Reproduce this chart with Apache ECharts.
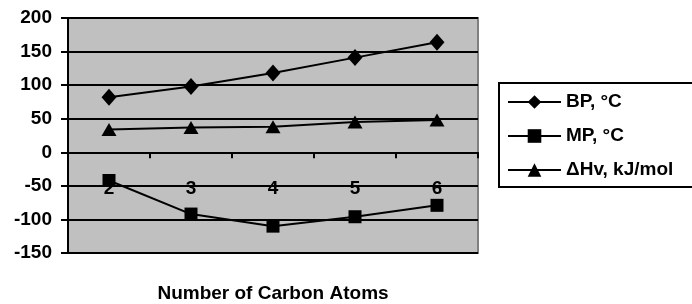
<!DOCTYPE html>
<html>
<head>
<meta charset="utf-8">
<script src="https://cdn.jsdelivr.net/npm/echarts@6/dist/echarts.min.js"></script>
<style>
  html, body { margin: 0; padding: 0; background: #fff; }
  #main { width: 692px; height: 304px; }
</style>
</head>
<body>
<div id="main"></div>
<script>
var categories = ['2', '3', '4', '5', '6'];
var bpData = [82, 98, 118, 141, 164];
var mpData = [-42, -92, -110, -96, -79];
var hvData = [34, 37, 38, 45, 48];
var seriesNames = ['BP, °C', 'MP, °C', 'ΔHv, kJ/mol'];

var chart = echarts.init(document.getElementById('main'));

var font = 'Arial, "Liberation Sans", sans-serif';
var fs = 19;

function lineSeries(name, data, symbol, size) {
  return {
    name: name,
    type: 'line',
    data: data,
    symbol: symbol,
    symbolSize: size,
    lineStyle: { color: '#000', width: 2 },
    itemStyle: { color: '#000' },
    animation: false
  };
}

var option = {
  title: {
    text: 'Number of Carbon Atoms',
    left: 273,
    top: 284,
    textAlign: 'center',
    padding: 0,
    textStyle: { color: '#000', fontSize: fs, fontWeight: 'bold', fontFamily: font }
  },
  grid: {
    left: 68, top: 18, right: 214, bottom: 51,
    outerBoundsMode: 'none',
    containLabel: false,
    show: true,
    backgroundColor: '#c0c0c0',
    borderColor: '#808080',
    borderWidth: 2
  },
  legend: {
    orient: 'vertical',
    left: 499,
    top: 83,
    padding: [9, 20, 7, 8],
    itemGap: 14,
    itemWidth: 53,
    itemHeight: 17,
    borderColor: '#000',
    borderWidth: 2,
    selectedMode: false,
    textStyle: { color: '#000', fontSize: fs, fontWeight: 'bold', fontFamily: font, lineHeight: 20 },
    data: seriesNames
  },
  xAxis: {
    type: 'category',
    data: categories,
    boundaryGap: true,
    axisLine: { onZero: true, lineStyle: { color: '#000', width: 2 } },
    axisTick: { show: true, length: 6, lineStyle: { color: '#000', width: 2 } },
    // labels sit below the zero line, as in the original
    axisLabel: { margin: -74, color: '#000', fontSize: fs, fontWeight: 'bold', fontFamily: font }
  },
  yAxis: {
    type: 'value',
    min: -150,
    max: 200,
    interval: 50,
    axisLine: { show: true, lineStyle: { color: '#000', width: 2 } },
    axisTick: { show: true, length: 7, lineStyle: { color: '#000', width: 2 } },
    axisLabel: { margin: 16, color: '#000', fontSize: fs, fontWeight: 'bold', fontFamily: font },
    splitLine: { show: true, lineStyle: { color: '#000', width: 2 } }
  },
  series: [
    lineSeries(seriesNames[0], bpData, 'diamond', [15, 17]),
    lineSeries(seriesNames[1], mpData, 'rect', 13),
    lineSeries(seriesNames[2], hvData, 'triangle', [15, 13])
  ]
};

chart.setOption(option);
</script>
</body>
</html>
